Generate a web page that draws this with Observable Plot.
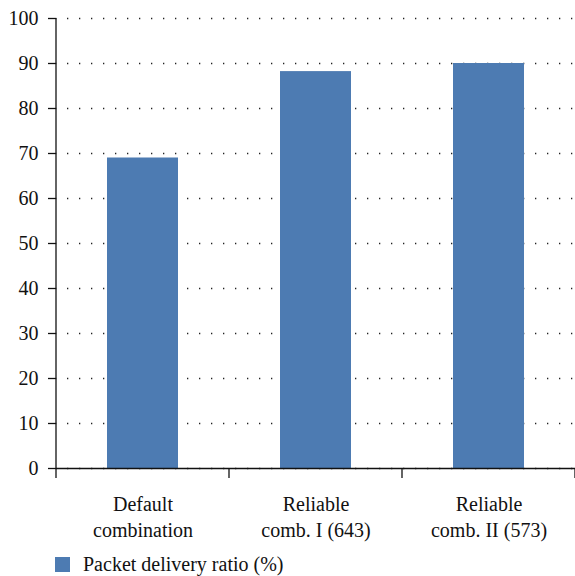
<!DOCTYPE html>
<html><head><meta charset="utf-8">
<script src="https://cdn.jsdelivr.net/npm/d3@7"></script>
<script src="https://cdn.jsdelivr.net/npm/@observablehq/plot@0.6"></script>
</head>
<body style="margin:0;background:#fff;font-size:20px;font-family:'Liberation Serif',serif">
<div id="chart"></div>
<div style="display:flex;align-items:center;margin-left:55px;margin-top:8px;font-size:20px;line-height:23px;color:#111;font-family:'Liberation Serif',serif"><span style="display:inline-block;width:15px;height:15px;background:#4d7bb2;margin-right:13px"></span><span id="legend-label" style="font-family:'Liberation Serif',serif"></span></div>
<script>
const categories = ["Default\ncombination", "Reliable\ncomb. I (643)", "Reliable\ncomb. II (573)"];
const values = [69, 88.2, 90];
const seriesName = "Packet delivery ratio (%)";
const yTicks = [0, 10, 20, 30, 40, 50, 60, 70, 80, 90, 100];

const data = categories.map((c, i) => ({category: c, value: values[i]}));
const barColor = "#4d7bb2";
const serif = "'Liberation Serif', serif";

const plot = Plot.plot({
  width: 575,
  height: 545,
  marginTop: 18,
  marginBottom: 77,
  marginLeft: 56,
  marginRight: 0,
  style: {fontFamily: serif, fontSize: "20px"},
  x: {domain: categories, paddingInner: 0.59, paddingOuter: 0.295, label: null},
  y: {domain: [0, 100], label: null},
  marks: [
    Plot.gridY(yTicks, {stroke: "#222", strokeOpacity: 1, strokeWidth: 1.3, strokeDasharray: "1.3,10.7", strokeDashoffset: 1}),
    Plot.barY(data, {x: "category", y: "value", fill: barColor}),
    Plot.ruleY([0], {stroke: "#111", strokeWidth: 1.3}),
    Plot.axisY(yTicks, {tickSize: 8, tickPadding: 10, fontSize: 20, fill: "#111", stroke: "#111", strokeWidth: 1.3}),
    Plot.axisX({tickSize: 0, tickPadding: 24, fontSize: 20, fill: "#111", lineHeight: 1.3})
  ]
});

document.getElementById("chart").appendChild(plot);
document.getElementById("legend-label").textContent = seriesName;

// axis line and band-boundary ticks, computed from the plot's scales
const xs = plot.scale("x");
const ys = plot.scale("y");
const y0 = ys.apply(0), y100 = ys.apply(100);
const g = d3.select(plot).append("g").attr("stroke", "#111").attr("stroke-width", 1.3);
g.append("line").attr("x1", xs.range[0]).attr("x2", xs.range[0]).attr("y1", y100).attr("y2", y0 + 10);
for (let i = 1; i <= categories.length; i++) {
  const bx = xs.range[0] + i * xs.step;
  g.append("line").attr("x1", bx).attr("x2", bx).attr("y1", y0).attr("y2", y0 + 10);
}
</script>
</body>
</html>
